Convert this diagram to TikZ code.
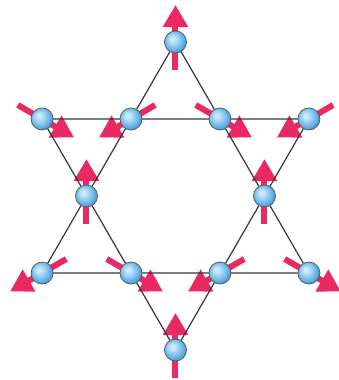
\documentclass[tikz,border=0pt]{standalone}
\usetikzlibrary{arrows.meta}

\definecolor{spinred}{RGB}{234,40,98}
\definecolor{bondgray}{RGB}{55,55,55}
\definecolor{sphhi}{RGB}{205,235,252}
\definecolor{sphmid}{RGB}{100,178,230}
\definecolor{sphdark}{RGB}{45,118,188}
\definecolor{sphrim}{RGB}{85,95,105}

\pgfdeclareradialshading{sphere}{\pgfqpoint{-8bp}{8bp}}{color(0bp)=(sphhi); color(4bp)=(sphhi); color(22bp)=(sphmid); color(34bp)=(sphdark); color(50bp)=(sphdark)}

\tikzset{every picture/.style={line width=0.75pt}}
\tikzset{
  spin/.style={draw=spinred, line width=4.5pt, -{Triangle[length=16.5pt,width=18pt]}},
  bond/.style={draw=bondgray, line width=0.9pt},
  ball/.style={circle, inner sep=0pt, minimum size=16.5pt, draw=sphrim, line width=0.6pt, shading=sphere}
}

\begin{document}
\begin{tikzpicture}[x=0.75pt,y=0.75pt,yscale=-1,xscale=1]
\useasboundingbox (0,0) rectangle (339,380);

%Outer tips
\coordinate (o1) at (175.5,42);
\coordinate (o2) at (42.1,119);
\coordinate (o3) at (42.1,273);
\coordinate (o4) at (175.5,350);
\coordinate (o5) at (308.9,273);
\coordinate (o6) at (308.9,119);
%Inner hexagon
\coordinate (i1) at (264.5,196);
\coordinate (i2) at (220,119);
\coordinate (i3) at (131,119);
\coordinate (i4) at (86.5,196);
\coordinate (i5) at (131,273);
\coordinate (i6) at (220,273);

%Spins
\foreach \n/\u in {o1/-90, o2/30, o3/150, o4/-90, o5/30, o6/150,
                   i1/-90, i2/30, i3/150, i4/-90, i5/30, i6/150}
  \draw [spin] (\n) ++(\u+180:28) -- ++(\u:65) ;

%Triangle up
\draw [bond] (o1) -- (o3) -- (o5) -- cycle ;
%Triangle down
\draw [bond] (o2) -- (o4) -- (o6) -- cycle ;

%Spheres
\foreach \n in {o1,o2,o3,o4,o5,o6,i1,i2,i3,i4,i5,i6}
  \node [ball] (s-\n) at (\n) {};

\end{tikzpicture}
\end{document}
